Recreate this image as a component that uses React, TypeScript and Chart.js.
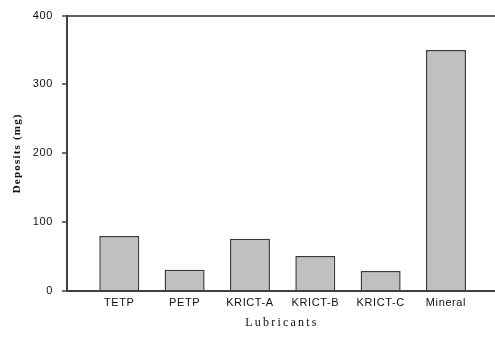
import React, { useEffect, useRef } from "react";
import { Chart, registerables } from "chart.js";

Chart.register(...registerables);

const lubricants = ["TETP", "PETP", "KRICT-A", "KRICT-B", "KRICT-C", "Mineral"];
const deposits = [80, 31, 76, 51, 29, 350];
const yTicks = [0, 100, 200, 300, 400];
const xTitle = "Lubricants";
const yTitle = "Deposits (mg)";

// Spaced-out axis lettering, and the two axis titles drawn with wide tracking.
const letterSpacingPlugin = {
  id: "spacedText",
  beforeDraw(chart: any) {
    chart.ctx.save();
    chart.ctx.letterSpacing = "0.6px";
  },
  afterDraw(chart: any) {
    const ctx = chart.ctx;
    ctx.restore();
    const area = chart.chartArea;
    ctx.save();
    ctx.fillStyle = "#111";
    ctx.textAlign = "center";
    ctx.textBaseline = "middle";

    ctx.font = "12px 'Liberation Serif'";
    ctx.letterSpacing = "2.2px";
    ctx.fillText(xTitle, (area.left + area.right) / 2 + 1, 322.5);

    ctx.translate(17, (area.top + area.bottom) / 2);
    ctx.rotate(-Math.PI / 2);
    ctx.font = "bold 11px 'Liberation Serif'";
    ctx.letterSpacing = "1.2px";
    ctx.fillText(yTitle, 0, 0);
    ctx.restore();
  },
};

export default function App() {
  const canvasRef = useRef<HTMLCanvasElement | null>(null);

  useEffect(() => {
    const canvas = canvasRef.current;
    if (!canvas) return;
    const chart = new Chart(canvas, {
      type: "bar",
      data: {
        datasets: [
          {
            data: lubricants.map((_, i) => ({ x: i, y: deposits[i] })),
            backgroundColor: "#c0c0c0",
            borderColor: "#3a3a3a",
            borderWidth: 1.5,
            barPercentage: 0.612,
            categoryPercentage: 1,
          },
        ],
      },
      options: {
        animation: false,
        responsive: false,
        maintainAspectRatio: false,
        layout: { padding: { top: 15, right: 0, left: 0, bottom: 0 } },
        plugins: { legend: { display: false }, tooltip: { enabled: false } },
        scales: {
          x: {
            type: "linear",
            offset: false,
            min: -0.8,
            max: 5.75,
            grid: { color: "transparent", drawTicks: false },
            border: { display: true, color: "#404040", width: 2 },
            ticks: {
              stepSize: 1,
              includeBounds: false,
              autoSkip: false,
              maxRotation: 0,
              padding: 5,
              color: "#111",
              font: { family: "Liberation Sans", size: 11 },
              callback: (v: any) =>
                Number.isInteger(v) && v >= 0 && v < lubricants.length ? lubricants[v] : "",
            },
            afterFit: (s: any) => {
              s.height = 47;
            },
          },
          y: {
            min: 0,
            max: 400,
            afterBuildTicks: (s: any) => {
              s.ticks = yTicks.map((v) => ({ value: v }));
            },
            grid: {
              color: (c: any) => (c.tick && c.tick.value === 400 ? "#606060" : "transparent"),
              lineWidth: 2,
              tickColor: "#404040",
              tickLength: 5,
              tickWidth: 1.5,
            },
            border: { display: true, color: "#404040", width: 2 },
            ticks: {
              padding: 9,
              color: "#111",
              font: { family: "Liberation Sans", size: 11 },
            },
            afterFit: (s: any) => {
              s.width = 67;
            },
          },
        },
      },
      plugins: [letterSpacingPlugin],
    });
    return () => chart.destroy();
  }, []);

  return (
    <div style={{ position: "fixed", left: 0, top: 0, width: 495, height: 338, background: "#fff" }}>
      <canvas ref={canvasRef} width={495} height={338} style={{ width: 495, height: 338 }} />
    </div>
  );
}
